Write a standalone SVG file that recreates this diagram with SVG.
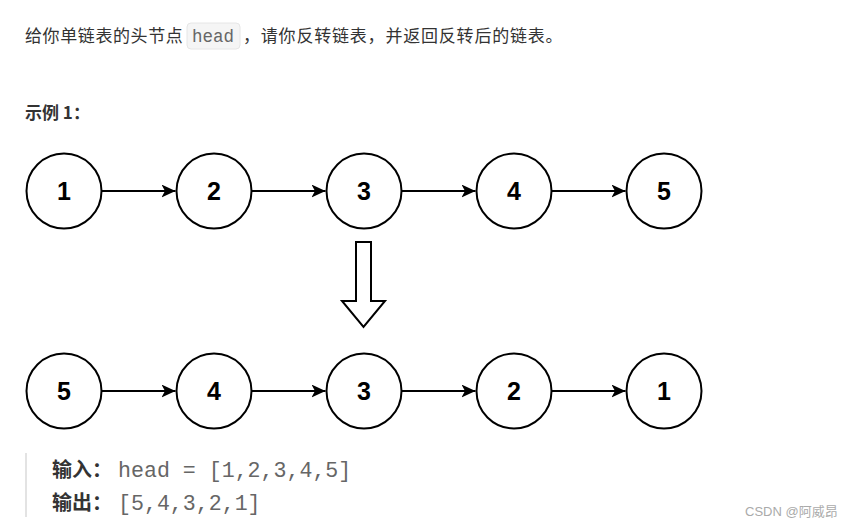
<svg xmlns="http://www.w3.org/2000/svg" width="858" height="528" viewBox="0 0 858 528">
<style>
.txt{font-family:"Microsoft YaHei","Noto Sans CJK SC","Liberation Sans",sans-serif;fill:#333;}
.node circle{fill:#fff;stroke:#000;stroke-width:2;}
.node text{font-family:"Liberation Sans",Arial,sans-serif;font-weight:bold;font-size:25px;fill:#000;text-anchor:middle;dominant-baseline:central;}
.edge{stroke:#000;stroke-width:2;fill:none;marker-end:url(#ah);}
.mono{font-family:"Liberation Mono","DejaVu Sans Mono",monospace;fill:#666;}
</style>
<defs>
<marker id="ah" viewBox="0 0 14 13" refX="14" refY="6.5" markerWidth="14" markerHeight="13" markerUnits="userSpaceOnUse" orient="auto">
<path d="M0,0 L14,6.5 L0,13 L3.5,6.5 z" fill="#000"/>
</marker>
</defs>
<rect width="858" height="528" fill="#fff"/>
<g id="intro">
<text class="txt" x="25" y="42" font-size="17" letter-spacing="0.6">给你单链表的头节点</text>
<rect x="187" y="23" width="53" height="26" rx="4" fill="#f5f5f5" stroke="#e6e6e6" stroke-width="1"/>
<text class="mono" x="192" y="42" font-size="17.5" fill="#555">head</text>
<text class="txt" x="243" y="42" font-size="17" letter-spacing="0.8">，请你反转链表，并返回反转后的链表。</text>
<text class="txt" x="25" y="119" font-size="17" font-weight="bold">示例 1：</text>
</g>
<g id="connectors">
<line class="edge" x1="101.5" y1="191" x2="175.5" y2="191"/>
<line class="edge" x1="251.5" y1="191" x2="325.5" y2="191"/>
<line class="edge" x1="401.5" y1="191" x2="475.5" y2="191"/>
<line class="edge" x1="551.5" y1="191" x2="625.5" y2="191"/>
<line class="edge" x1="101.5" y1="391" x2="175.5" y2="391"/>
<line class="edge" x1="251.5" y1="391" x2="325.5" y2="391"/>
<line class="edge" x1="401.5" y1="391" x2="475.5" y2="391"/>
<line class="edge" x1="551.5" y1="391" x2="625.5" y2="391"/>
</g>
<g id="n1" class="node"><circle cx="64" cy="191" r="37.5"/><text x="64" y="191">1</text></g>
<g id="n2" class="node"><circle cx="214" cy="191" r="37.5"/><text x="214" y="191">2</text></g>
<g id="n3" class="node"><circle cx="364" cy="191" r="37.5"/><text x="364" y="191">3</text></g>
<g id="n4" class="node"><circle cx="514" cy="191" r="37.5"/><text x="514" y="191">4</text></g>
<g id="n5" class="node"><circle cx="664" cy="191" r="37.5"/><text x="664" y="191">5</text></g>
<g id="downArrow">
<path d="M356,242 L371,242 L371,301 L385,301 L363.5,327 L342,301 L356,301 Z" fill="#fff" stroke="#000" stroke-width="2" stroke-linejoin="miter"/>
</g>
<g id="r5" class="node"><circle cx="64" cy="391" r="37.5"/><text x="64" y="391">5</text></g>
<g id="r4" class="node"><circle cx="214" cy="391" r="37.5"/><text x="214" y="391">4</text></g>
<g id="r3" class="node"><circle cx="364" cy="391" r="37.5"/><text x="364" y="391">3</text></g>
<g id="r2" class="node"><circle cx="514" cy="391" r="37.5"/><text x="514" y="391">2</text></g>
<g id="r1" class="node"><circle cx="664" cy="391" r="37.5"/><text x="664" y="391">1</text></g>
<g id="example">
<rect x="25" y="453" width="2" height="64" fill="#e3e3e3"/>
<text class="txt" x="52" y="477" font-size="20" font-weight="bold" fill="#222">输入：</text>
<text class="mono" x="118" y="477" font-size="21.6">head = [1,2,3,4,5]</text>
<text class="txt" x="52" y="510" font-size="20" font-weight="bold" fill="#222">输出：</text>
<text class="mono" x="118" y="510" font-size="21.6">[5,4,3,2,1]</text>
</g>
<text x="745" y="516" font-family="'Liberation Sans','Noto Sans CJK SC',sans-serif" font-size="13" fill="#aaa">CSDN @阿威昂</text>
</svg>
